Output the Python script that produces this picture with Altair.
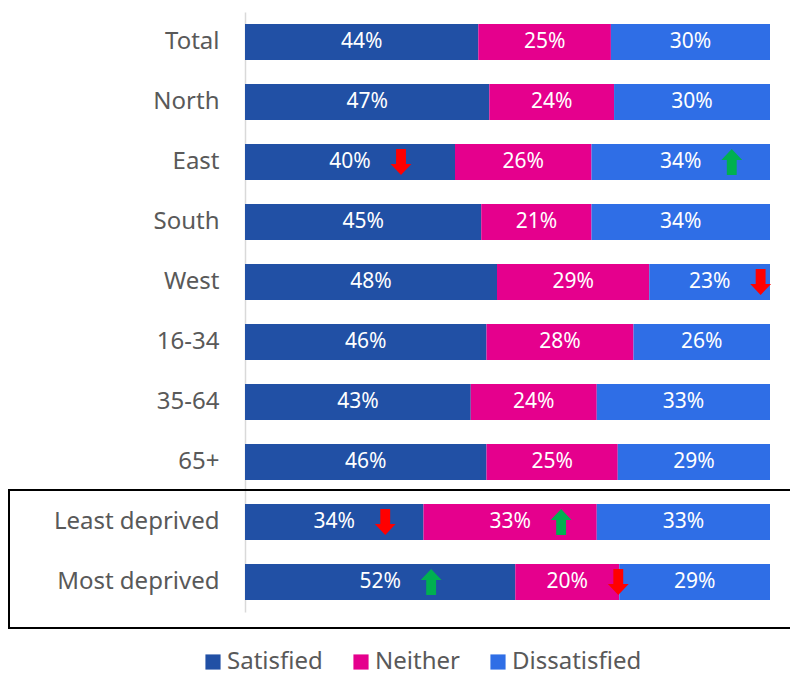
import altair as alt
import pandas as pd

categories = ["Total", "North", "East", "South", "West", "16-34", "35-64", "65+",
              "Least deprived", "Most deprived"]
satisfied = [44, 47, 40, 45, 48, 46, 43, 46, 34, 52]
neither = [25, 24, 26, 21, 29, 28, 24, 25, 33, 20]
dissatisfied = [30, 30, 34, 34, 23, 26, 33, 29, 33, 29]

satisfied_arrow = ["", "", "down", "", "", "", "", "", "down", "up"]
neither_arrow = ["", "", "", "", "", "", "", "", "up", "down"]
dissatisfied_arrow = ["", "", "up", "", "down", "", "", "", "", ""]

series = ["Satisfied", "Neither", "Dissatisfied"]
colors = ["#2150A5", "#E5008D", "#2F6EE6"]

rows = []
for i, c in enumerate(categories):
    for j, (s, vals, arr) in enumerate(zip(series,
                                           [satisfied, neither, dissatisfied],
                                           [satisfied_arrow, neither_arrow, dissatisfied_arrow])):
        rows.append({"category": c, "series": s, "value": vals[i], "order": j,
                     "arrow": arr[i], "label": f"{vals[i]}%"})
df = pd.DataFrame(rows)

down_path = "M-0.38,-1 L0.38,-1 L0.38,0.15 L0.8,0.15 L0,1 L-0.8,0.15 L-0.38,0.15 Z"
up_path = "M-0.38,1 L0.38,1 L0.38,-0.15 L0.8,-0.15 L0,-1 L-0.8,-0.15 L-0.38,-0.15 Z"

FONT = "Noto Sans"
PLOT_W = 525
ARROW_GAP_PX = 51

base = alt.Chart(df).transform_stack(
    stack="value", groupby=["category"], as_=["v0", "v1"],
    sort=[alt.SortField("order", "ascending")], offset="normalize"
).transform_calculate(mid="(datum.v0 + datum.v1) / 2")

yenc = alt.Y("category:N", sort=categories, title=None,
             scale=alt.Scale(paddingInner=0.4, paddingOuter=0.2),
             axis=alt.Axis(labelFontSize=24, labelColor="#595959", labelFont=FONT,
                           labelPadding=26, ticks=False, domainColor="#D9D9D9",
                           domainWidth=1.5, labelLimit=300))
xscale = alt.Scale(domain=[0, 1], nice=False, zero=True)

bars = base.mark_bar(stroke=None).encode(
    x=alt.X("v0:Q", scale=xscale, axis=None),
    x2="v1:Q",
    y=yenc,
    color=alt.Color("series:N", sort=series,
                    scale=alt.Scale(domain=series, range=colors),
                    legend=alt.Legend(orient="none", legendX=-44, legendY=638,
                                      title=None, symbolType="square",
                                      symbolSize=230, symbolStrokeWidth=0,
                                      labelFontSize=24, labelFont=FONT,
                                      labelColor="#595959", columnPadding=26,
                                      labelOffset=2, direction="horizontal")),
)

texts = base.mark_text(color="white", fontSize=21, font=FONT).encode(
    x=alt.X("mid:Q", scale=xscale),
    y=alt.Y("category:N", sort=categories),
    text="label:N",
)

arrows = base.transform_filter("datum.arrow != ''").transform_calculate(
    ax=f"datum.mid + {ARROW_GAP_PX / PLOT_W}"
).mark_point(
    filled=True, size=676, opacity=1, strokeWidth=0
).encode(
    x=alt.X("ax:Q", scale=xscale),
    y=alt.Y("category:N", sort=categories),
    shape=alt.Shape("arrow:N", scale=alt.Scale(domain=["up", "down"], range=[up_path, down_path]),
                    legend=None),
    fill=alt.Fill("arrow:N", scale=alt.Scale(domain=["up", "down"], range=["#00B050", "#FF0000"]),
                  legend=None),
)

box = alt.Chart(pd.DataFrame({"a": [0]})).mark_rect(
    fill=None, stroke="black", strokeWidth=2
).encode(x=alt.value(-236), x2=alt.value(551), y=alt.value(478), y2=alt.value(616))

chart = alt.layer(bars, texts, arrows, box).resolve_scale(
    color="independent", fill="independent", shape="independent"
).properties(
    width=PLOT_W, height=600,
    autosize=alt.AutoSizeParams(type="none"),
    padding={"left": 237, "top": 4, "right": 20, "bottom": 63},
).configure_view(stroke=None)

chart.save("out.html", embed_options={"renderer": "svg", "actions": False})
